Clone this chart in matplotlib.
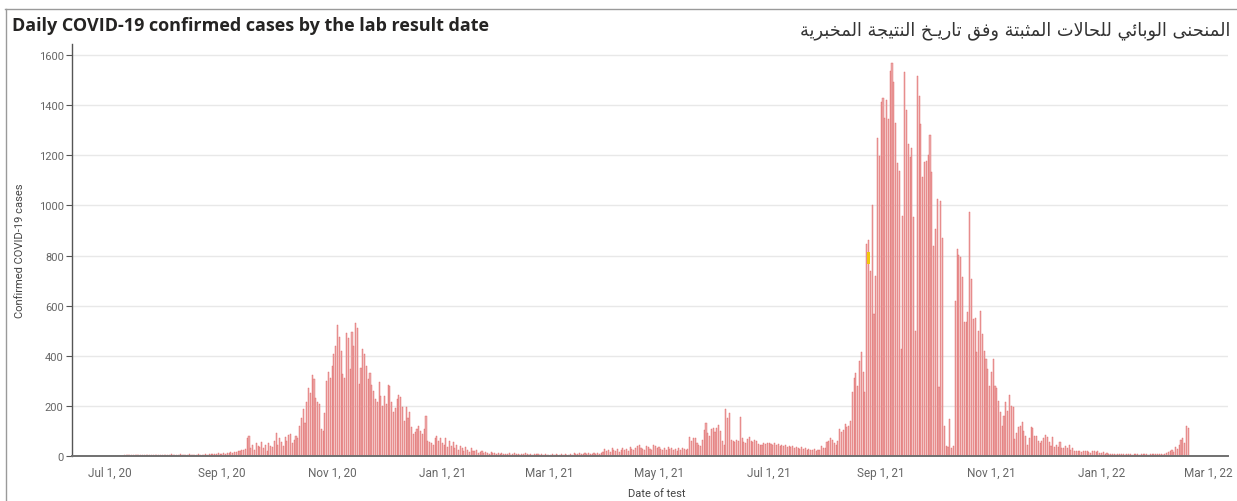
import matplotlib
matplotlib.use("Agg")
import matplotlib.pyplot as plt
import matplotlib.dates as mdates
from matplotlib.lines import Line2D
import numpy as np
import pandas as pd

# daily confirmed cases (from Jul 1, 2020)
jul20 = [0,0,0,0,0,0,0,0,2,3,4,2,5,3,4,2,3,5,4,3,2,4,3,5,4,3,2,4,5,3,4]
aug20 = [4,5,3,6,4,5,3,4,6,5,4,3,5,6,4,5,3,4,6,5,4,5,6,4,7,6,8,7,9,10,8]
sep20 = [8,10,9,12,11,14,13,16,15,18,20,22,25,28,72,78,30,45,25,50,40,35,55,30,45,20,50,40,35,60]
oct20 = [90,45,70,55,40,75,60,85,88,50,65,80,70,120,150,188,130,215,270,250,
         323,307,230,214,207,108,100,170,300,336,310]
nov20 = [360,407,440,523,473,420,327,310,489,469,347,493,440,531,509,287,350,427,407,360,
         307,330,283,260,227,214,294,240,200,240]
dec20 = [207,283,278,214,174,190,227,243,234,194,140,194,150,174,114,88,95,108,120,100,
         88,108,161,61,55,50,45,70,81,60,70]
jan21 = [50,45,70,35,60,40,55,30,45,25,40,30,20,35,25,15,30,20,18,25,12,15,20,10,15,12,8,14,10,12,9]
feb21 = [10,8,12,6,9,7,10,5,8,12,6,9,5,8,7,10,6,4,8,5,7,9,6,5,8,4,6,5]
mar21 = [5,4,6,3,7,5,4,8,3,6,5,4,9,5,12,8,6,10,7,9,12,8,10,6,9,11,7,12,8,10,14]
apr21 = [27,18,22,15,32,25,20,28,17,24,30,22,26,20,35,28,24,30,38,45,30,26,22,40,35,28,24,45,38,32]
may21 = [36,28,24,30,22,35,26,30,25,28,20,32,24,30,26,22,28,75,60,72,70,50,45,40,65,102,133,90,80,109,112]
jun21 = [95,110,122,100,60,45,186,150,173,65,60,55,62,58,156,70,56,50,69,76,60,55,62,58,49,45,42,53,48,50]
jul21 = [53,48,45,50,42,49,40,44,38,42,36,40,34,38,30,36,32,28,34,26,30,24,28,25,22,27,20,24,22,41,30]
aug21 = [30,55,60,70,62,50,45,60,108,95,105,128,115,120,141,257,310,331,281,380,
         416,334,254,846,860,740,1000,567,720,1267,1196]
sep21 = [1414,1427,1350,1420,1345,1537,1568,1491,1329,1169,1138,427,959,1531,1380,1245,1192,1228,952,500,
         1518,1438,1325,1112,1172,1178,1201,1281,1134,839]
oct21 = [906,1025,274,1019,869,121,41,35,148,30,41,620,826,802,793,713,536,536,573,972,
         706,547,549,414,500,580,487,420,387,347,281]
nov21 = [334,387,281,270,221,174,121,160,217,181,243,201,194,68,90,114,121,134,101,81,
         44,70,114,110,81,81,61,50,61,70]
dec21 = [84,74,55,41,77,37,44,35,57,33,30,40,30,44,25,30,20,21,18,20,15,20,18,20,15,12,18,20,14,20,10]
jan22 = [12,16,8,10,7,9,6,8,5,7,9,6,8,5,7,6,9,5,8,6,7,5,8,6,9,7,5,8,6,7,9]
feb22 = [6,8,7,5,9,11,15,20,24,15,37,28,45,64,73,50,120,113]

cases = (jul20 + aug20 + sep20 + oct20 + nov20 + dec20 + jan21 + feb21 + mar21 + apr21
         + may21 + jun21 + jul21 + aug21 + sep21 + oct21 + nov21 + dec21 + jan22 + feb22)
dates = pd.date_range("2020-07-01", periods=len(cases), freq="D")

# selected (yellow) marker on one bar
highlight_date = pd.Timestamp("2021-08-25")
highlight_low, highlight_high = 766, 814

title_en = "Daily COVID-19 confirmed cases by the lab result date"
title_ar = "المنحنى الوبائي للحالات المثبتة وفق تاريـخ النتيجة المخبرية"
y_ticks = [0, 200, 400, 600, 800, 1000, 1200, 1400, 1600]


# --- minimal arabic shaping (matplotlib has no complex text layout) ---
FORMS = {
    "ا": (0xFE8D, 0xFE8E, None, None),
    "ب": (0xFE8F, 0xFE90, 0xFE91, 0xFE92),
    "ة": (0xFE93, 0xFE94, None, None),
    "ت": (0xFE95, 0xFE96, 0xFE97, 0xFE98),
    "ث": (0xFE99, 0xFE9A, 0xFE9B, 0xFE9C),
    "ج": (0xFE9D, 0xFE9E, 0xFE9F, 0xFEA0),
    "ح": (0xFEA1, 0xFEA2, 0xFEA3, 0xFEA4),
    "خ": (0xFEA5, 0xFEA6, 0xFEA7, 0xFEA8),
    "ر": (0xFEAD, 0xFEAE, None, None),
    "ف": (0xFED1, 0xFED2, 0xFED3, 0xFED4),
    "ق": (0xFED5, 0xFED6, 0xFED7, 0xFED8),
    "ل": (0xFEDD, 0xFEDE, 0xFEDF, 0xFEE0),
    "م": (0xFEE1, 0xFEE2, 0xFEE3, 0xFEE4),
    "ن": (0xFEE5, 0xFEE6, 0xFEE7, 0xFEE8),
    "و": (0xFEED, 0xFEEE, None, None),
    "ى": (0xFEEF, 0xFEF0, None, None),
    "ي": (0xFEF1, 0xFEF2, 0xFEF3, 0xFEF4),
    "ئ": (0xFE89, 0xFE8A, 0xFE8B, 0xFE8C),
}
TATWEEL = "ـ"


def joins_next(ch):
    return ch == TATWEEL or (ch in FORMS and FORMS[ch][2] is not None)


def is_letter(ch):
    return ch in FORMS or ch == TATWEEL


def shape(text):
    out = []
    i = 0
    prev_joins = False
    while i < len(text):
        ch = text[i]
        nxt = text[i + 1] if i + 1 < len(text) else ""
        if ch == "ل" and nxt == "ا":
            out.append(chr(0xFEFC if prev_joins else 0xFEFB))
            prev_joins = False
            i += 2
            continue
        if ch == TATWEEL:
            out.append(ch)
            prev_joins = True
            i += 1
            continue
        if ch not in FORMS:
            out.append(ch)
            prev_joins = False
            i += 1
            continue
        iso, fin, ini, med = FORMS[ch]
        nj = joins_next(ch) and is_letter(nxt)
        if prev_joins and nj:
            g = med
        elif prev_joins:
            g = fin
        elif nj:
            g = ini
        else:
            g = iso
        out.append(chr(g))
        prev_joins = joins_next(ch)
        i += 1
    return "".join(reversed(out))


W, H = 1237, 502
fig = plt.figure(figsize=(W / 100, H / 100), dpi=100)
ax = fig.add_axes([72 / W, 45 / H, (1228 - 72) / W, (457 - 45) / H])

ax.bar(dates, cases, width=0.6, color="#ecabab", edgecolor="#e06464",
       linewidth=0.3, zorder=2)
ax.bar([highlight_date], [highlight_high - highlight_low], bottom=[highlight_low],
       width=2.0, color="#f2c80f", zorder=3)

ax.set_ylim(0, 1644)
ax.set_yticks(y_ticks)
ax.set_xlim(pd.Timestamp("2020-06-10"), pd.Timestamp("2022-03-12"))

ax.xaxis.set_major_locator(mdates.MonthLocator(bymonth=[1, 3, 5, 7, 9, 11]))
ax.xaxis.set_major_formatter(plt.FuncFormatter(
    lambda v, p: "{0:%b} {0.day}, {0:%y}".format(mdates.num2date(v))))

ax.grid(axis="y", color="#e8e8e8", linewidth=1, zorder=0)
for s in ["top", "right"]:
    ax.spines[s].set_visible(False)
ax.spines["left"].set_color("#555555")
ax.spines["left"].set_linewidth(1)
ax.spines["bottom"].set_color("#707070")
ax.spines["bottom"].set_linewidth(1.4)

ax.tick_params(axis="y", length=4, width=0.8, color="#555555", labelsize=8,
               labelcolor="#666666", pad=2)
ax.tick_params(axis="x", length=0, labelsize=8.5, labelcolor="#666666", pad=7)
for lab in ax.get_xticklabels() + ax.get_yticklabels():
    lab.set_family("Roboto")

ax.set_ylabel("Confirmed COVID-19 cases", fontsize=8, color="#444444", family="Roboto")
ax.yaxis.set_label_coords(-0.0405, 0.5)
ax.set_xlabel("Date of test", fontsize=8, color="#444444", family="Roboto")
ax.xaxis.set_label_coords(0.506, -0.077)

fig.text(12 / W, 1 - 26 / H, title_en, fontsize=13, fontweight="bold",
         color="#252423", family="Open Sans", ha="left", va="center")
fig.text(1230 / W, 1 - 31 / H, shape(title_ar), fontsize=12.8, color="#333333",
         family="DejaVu Sans", ha="right", va="center")

# visual frame (top and left edges)
fig.add_artist(Line2D([5 / W, 1], [1 - 10 / H, 1 - 10 / H], color="#9a9a9a", linewidth=1))
fig.add_artist(Line2D([6 / W, 6 / W], [0, 1 - 10 / H], color="#9a9a9a", linewidth=1))

fig.savefig("out.png", dpi=100)
